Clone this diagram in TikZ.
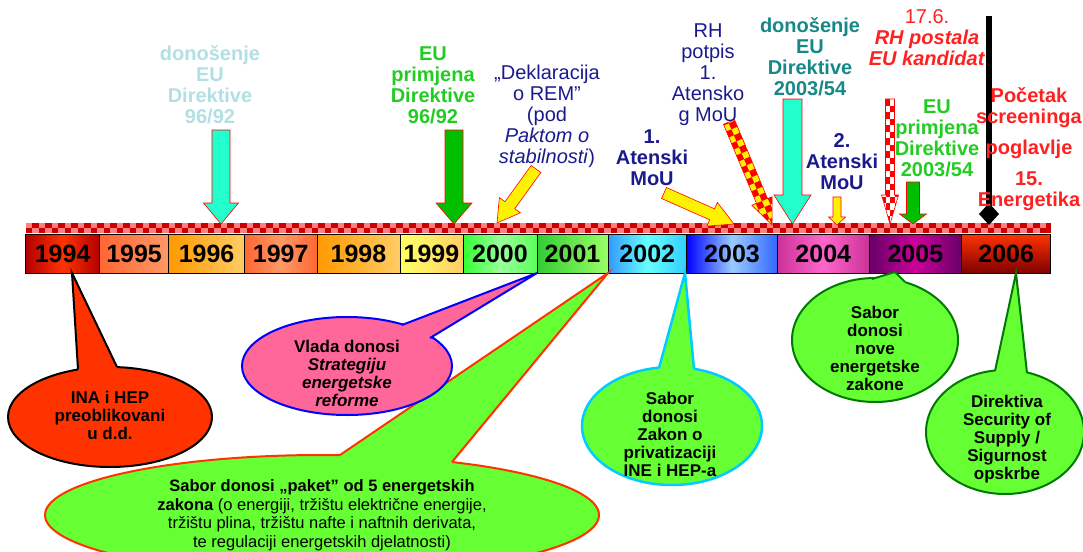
\documentclass[tikz,border=0pt]{standalone}
\usepackage{fontspec}
\setmainfont{Liberation Sans}
\usetikzlibrary{calc}

\definecolor{deepred}{HTML}{B30000}
\definecolor{redorange}{HTML}{FF3300}
\definecolor{coral}{HTML}{FF6633}
\definecolor{peach}{HTML}{FF9966}
\definecolor{amber}{HTML}{FF9900}
\definecolor{sand}{HTML}{FFCC66}
\definecolor{lemon}{HTML}{FFFF66}
\definecolor{limegreen}{HTML}{33FF33}
\definecolor{mint}{HTML}{99FF99}
\definecolor{leaf}{HTML}{33CC33}
\definecolor{pistachio}{HTML}{99FF66}
\definecolor{skyblue}{HTML}{3399FF}
\definecolor{aqua}{HTML}{66FFFF}
\definecolor{azure}{HTML}{33CCFF}
\definecolor{royal}{HTML}{0000FF}
\definecolor{iceblue}{HTML}{99CCFF}
\definecolor{cobalt}{HTML}{3366FF}
\definecolor{rose}{HTML}{CC3399}
\definecolor{candy}{HTML}{FF66CC}
\definecolor{plum}{HTML}{660066}
\definecolor{fuchsia}{HTML}{CC0099}
\definecolor{maroon}{HTML}{800000}
\definecolor{stripred}{HTML}{CC0000}
\definecolor{strippink}{HTML}{FF8080}
\definecolor{lightcyantext}{HTML}{B2DFE3}
\definecolor{eugreen}{HTML}{22CC22}
\definecolor{navytext}{HTML}{1A1A8C}
\definecolor{tealtext}{HTML}{178787}
\definecolor{redtext}{HTML}{FF2020}
\definecolor{arrowcyan}{HTML}{22FFCC}
\definecolor{arrowgreen}{HTML}{00BF00}
\definecolor{vladapink}{HTML}{FF6699}
\definecolor{sabgreen}{HTML}{66FF33}
\definecolor{privcyan}{HTML}{00CCFF}
\definecolor{zakgreen}{HTML}{007A00}

\tikzstyle{yearlabel} = [font=\bfseries\fontsize{25}{25}\selectfont, inner sep=0pt]
\tikzstyle{boldnote} = [font=\bfseries\fontsize{20}{21}\selectfont, align=center, inner sep=0pt]
\tikzstyle{plainnote} = [font=\fontsize{20}{21}\selectfont, align=center, inner sep=0pt]
\tikzstyle{bubbletext} = [font=\bfseries\fontsize{17}{18}\selectfont, align=center, inner sep=0pt]
\tikzstyle{pakettext} = [font=\fontsize{16.5}{18.5}\selectfont, align=center, inner sep=0pt]
\tikzstyle{blockarrow} = [draw=red, line width=0.6pt]
\tikzstyle{inabubble} = [fill=redorange, draw=black, line width=2pt]
\tikzstyle{vladabubble} = [fill=vladapink, draw=royal, line width=2pt]
\tikzstyle{paketbubble} = [fill=sabgreen, draw=redorange, line width=2pt]
\tikzstyle{privbubble} = [fill=sabgreen, draw=privcyan, line width=2.5pt]
\tikzstyle{zakonbubble} = [fill=sabgreen, draw=zakgreen, line width=2pt]

% block arrow: tail, tip, half shaft, half head, head length
\newcommand{\arrowpath}[5]{($(#2)!#5!(#1)$) coordinate (hb)
 ($(#1)!#3!90:(#2)$) -- ($(hb)!#3!90:(#2)$) -- ($(hb)!#4!90:(#2)$) -- (#2)
 -- ($(hb)!#4!-90:(#2)$) -- ($(hb)!#3!-90:(#2)$) -- ($(#1)!#3!-90:(#2)$) -- cycle}

% speech bubble: style, centre, radii, tip, two base points
\newcommand{\bubble}[6]{
\filldraw[#1] (#2) ellipse (#3);
\fill[#1, draw=none] (#5) -- (#4) -- (#6) -- ($(#6)+(0,6)$) -- ($(#5)+(0,6)$) -- cycle;
\draw[#1, fill=none] (#5) -- (#4) -- (#6);
}

\begin{document}
\begin{tikzpicture}[x=1pt,y=-1pt]
\useasboundingbox (0,0) rectangle (1083,551);
\clip (0,0) rectangle (1083,551);

%checkered strip over the years
\fill[stripred] (25.8,223.4) rectangle (1050.7,233.4);
\foreach \i in {0,...,78}
{
\fill[strippink] (25.8+13*\i,223.4) rectangle ++(6.5,5);
}
\foreach \i in {0,...,77}
{
\fill[strippink] (32.3+13*\i,228.4) rectangle ++(6.5,5);
}

%year cells
\foreach \xa/\xb/\yr/\cl/\cm/\cr in {
25.8/99.5/1994/deepred/redorange/deepred,
99.5/168.7/1995/coral/coral!50!peach/peach,
168.7/244.5/1996/amber/amber!50!sand/sand,
244.5/317/1997/coral/peach/coral,
317/400/1998/amber/amber!50!sand/sand,
400/463/1999/lemon/lemon!60!sand/sand,
463/537/2000/limegreen/mint/limegreen!60!mint,
537/608/2001/leaf/leaf!50!pistachio/pistachio,
608/686.5/2002/skyblue/aqua/azure,
686.5/777.5/2003/royal/iceblue/cobalt,
777.5/869/2004/rose/candy/rose,
869/961.7/2005/plum/fuchsia/plum}
{
\draw[line width=0.8pt, left color=\cl, right color=\cr, middle color=\cm] (\xa,234) rectangle (\xb,273);
\node[yearlabel] (y\yr) at ({(\xa+\xb)/2},254) {\yr};
}
\draw[line width=0.8pt, top color=redorange, bottom color=maroon] (961.7,234) rectangle (1050.7,273);
\node[yearlabel] (y2006) at (1006.2,254) {2006};

%arrow tips on the strip
\coordinate (t96) at (221,224);
\coordinate (t99) at (454,224);
\coordinate (t00) at (497,223);
\coordinate (t03a) at (734,224);
\coordinate (t03b) at (772,225);
\coordinate (t03c) at (792.5,224);
\coordinate (t04a) at (837,225);
\coordinate (t04b) at (890,224);
\coordinate (t05) at (913,224);
\coordinate (t06) at (989,225);

\draw[blockarrow, fill=arrowcyan] \arrowpath{221,130}{t96}{9pt}{17.5pt}{21pt};
\draw[blockarrow, fill=arrowgreen] \arrowpath{454,130}{t99}{9pt}{18pt}{21pt};
\draw[blockarrow, fill=yellow] \arrowpath{536,169}{t00}{6pt}{13pt}{22pt};
\draw[blockarrow, fill=yellow] \arrowpath{664,193}{t03a}{6pt}{13pt}{24pt};
\draw[blockarrow, fill=arrowcyan] \arrowpath{792.5,99}{t03c}{9.5pt}{18.5pt}{29pt};
\draw[blockarrow, fill=yellow] \arrowpath{837,197}{t04a}{4pt}{8.5pt}{8pt};
\draw[blockarrow, fill=arrowgreen] \arrowpath{913,182}{t05}{6.5pt}{13.5pt}{10pt};

%checkered red and yellow arrow
\begin{scope}
\clip \arrowpath{729,122}{t03b}{6pt}{11pt}{26pt};
\fill[yellow] (700,100) rectangle (800,240);
\begin{scope}[shift={(t03b)}, rotate=23]
\foreach \i in {-3,...,2}
 \foreach \j in {-19,...,1}
 {
 \ifodd\numexpr\i+\j+40\relax \fill[red] (6.5*\i,6.5*\j) rectangle ++(6.5,6.5); \fi
 }
\end{scope}
\end{scope}
\draw[blockarrow] \arrowpath{729,122}{t03b}{6pt}{11pt}{26pt};

%checkered red and white arrow
\begin{scope}
\clip \arrowpath{890,99}{t04b}{4.5pt}{8.5pt}{29pt};
\fill[white] (878,95) rectangle (902,230);
\foreach \i in {0,...,3}
 \foreach \j in {0,...,20}
 {
 \ifodd\numexpr\i+\j\relax \fill[red] (881+4.5*\i,99+6.5*\j) rectangle ++(4.5,6.5); \fi
 }
\end{scope}
\draw[blockarrow] \arrowpath{890,99}{t04b}{4.5pt}{8.5pt}{29pt};

%black arrow for 2006
\coordinate (blacktop) at (989,16);
\draw[line width=6pt] (blacktop) -- (989,206);
\fill (989,203) -- (999,214) -- (t06) -- (979,214) -- cycle;

%bubbles below the years
\bubble{inabubble}{110,417}{102 and 50}{72,273}{78,369.5}{117,367}
\bubble{paketbubble}{322,515}{277 and 60}{608,273}{340,455}{452,462}
\bubble{vladabubble}{347,366}{105 and 49}{537,273}{402,325}{430,338}
\bubble{privbubble}{672,426}{90 and 59}{685,273}{659,368}{694,369}
\bubble{zakonbubble}{875,340}{83 and 62}{895,272}{872,279}{905,282}
\bubble{zakonbubble}{1005,432}{79 and 62}{1016,273}{995,371}{1027,373}

%texts above
\node[boldnote, text=lightcyantext] (don96) at (210,85) {donošenje\\EU\\Direktive\\96/92};
\node[boldnote, text=eugreen] (prim96) at (433,85) {EU\\primjena\\Direktive\\96/92};
\node[plainnote, text=navytext] (rem) at (547,116.5) {„Deklaracija\\o REM”\\(pod\\\textit{Paktom o}\\\textit{stabilnosti})};
\node[plainnote, text=navytext] (potpis) at (708,75) {RH\\potpis\\1.\\Atensko\\g MoU};
\node[boldnote, text=tealtext] (don03) at (810,57) {donošenje\\EU\\Direktive\\2003/54};
\node[boldnote, text=navytext] (aten1) at (652,157.5) {1.\\Atenski\\MoU};
\node[boldnote, text=navytext] (aten2) at (842,162) {2.\\Atenski\\MoU};
\node[plainnote, text=redtext] (kand) at (927,38) {17.6.\\\textbf{\textit{RH postala}}\\\textbf{\textit{EU kandidat}}};
\node[boldnote, text=eugreen] (prim03) at (937,138.5) {EU\\primjena\\Direktive\\2003/54};
\node[boldnote, text=redtext] (screen) at (1029,149.5) {Početak\\screeninga\\[10pt]poglavlje\\[10pt]15.\\Energetika};

%texts in bubbles
\node[bubbletext] (ina) at (110,415) {INA i HEP\\preoblikovani\\u d.d.};
\node[bubbletext] (vlada) at (347,373.5) {Vlada donosi\\\textit{Strategiju}\\\textit{energetske}\\\textit{reforme}};
\node[bubbletext] (priv) at (670,434.5) {Sabor\\donosi\\Zakon o\\privatizaciji\\INE i HEP-a};
\node[bubbletext] (nove) at (875,348) {Sabor\\donosi\\nove\\energetske\\zakone};
\node[bubbletext] (sos) at (1007,439) {Direktiva\\Security of\\Supply /\\Sigurnost\\opskrbe};
\node[pakettext] (paket) at (322,515) {\textbf{Sabor donosi „paket” od 5 energetskih}\\\textbf{zakona} (o energiji, tržištu električne energije,\\tržištu plina, tržištu nafte i naftnih derivata,\\te regulaciji energetskih djelatnosti)};

\end{tikzpicture}
\end{document}
